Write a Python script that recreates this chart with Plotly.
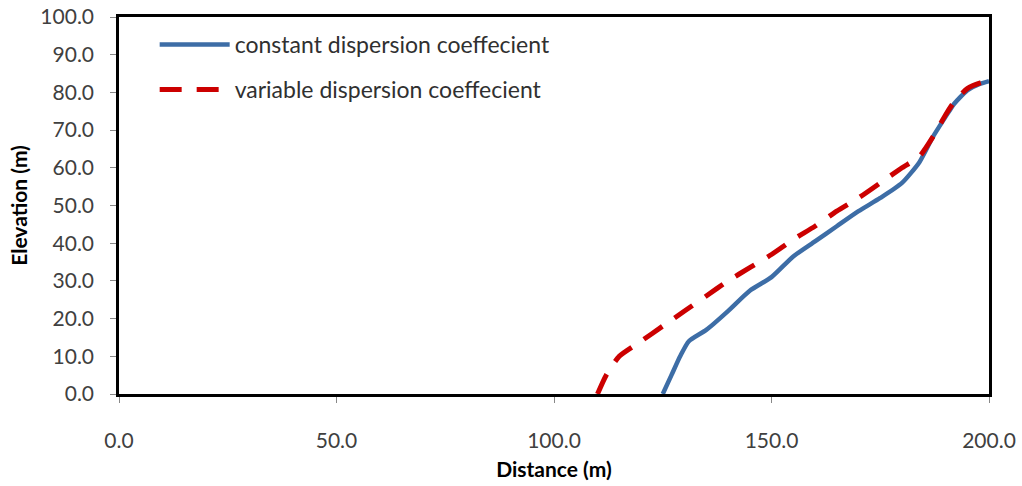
import plotly.graph_objects as go

const_x = [125, 127, 129, 131, 135, 140, 145, 150, 155, 160, 165, 170, 175, 180, 184, 187, 190, 192, 195, 198, 200]
const_y = [0, 5, 10, 14, 17, 22, 27.4, 31, 36.5, 40.5, 44.5, 48.5, 52, 56, 61.5, 68, 73.5, 77, 80.5, 82.3, 83]

var_x = [110, 112, 115, 120, 125, 130, 135, 140, 145, 150, 155, 160, 165, 170, 175, 180, 184, 187, 190, 192, 195, 198, 200]
var_y = [0, 5, 10, 14, 18, 22, 26, 30, 33.5, 37, 41, 44.5, 48.5, 52, 56, 60, 63, 68, 74, 77.5, 81, 82.5, 83]

x_ticks = [0, 50, 100, 150, 200]
y_ticks = [0, 10, 20, 30, 40, 50, 60, 70, 80, 90, 100]

fig = go.Figure()
fig.add_trace(go.Scatter(x=const_x, y=const_y, mode="lines", name="constant dispersion coeffecient",
                         legendgroup="a",
                         line=dict(color="#3D6DA6", width=4.5, shape="spline", smoothing=0.6)))
fig.add_trace(go.Scatter(x=var_x, y=var_y, mode="lines", name="variable dispersion coeffecient",
                         legendgroup="b",
                         line=dict(color="#CC0000", width=5, dash="22px,15px", shape="spline", smoothing=0.6)))

tickfont = dict(family="Lato", size=21, color="#404040")
titlefont = dict(family="Lato", size=21, color="black", weight="bold")
fig.update_layout(
    width=1022, height=486,
    margin=dict(l=119, r=33, t=17, b=92),
    paper_bgcolor="white", plot_bgcolor="white",
    showlegend=True,
    legend=dict(x=0.041, y=0.984, xanchor="left", yanchor="top", bgcolor="rgba(0,0,0,0)",
                font=dict(family="Lato", size=23, color="#303030"),
                itemwidth=70, tracegroupgap=12, traceorder="grouped"),
    font=dict(family="Lato"),
)
fig.update_xaxes(range=[0, 200], tickvals=x_ticks, ticktext=[f"{v:.1f}" for v in x_ticks],
                 tickfont=tickfont, ticks="outside", ticklen=6, tickcolor="#888888",
                 ticklabelstandoff=20, showgrid=False, zeroline=False, automargin=False,
                 showline=True, mirror=True, linecolor="black", linewidth=2.5,
                 title=dict(text="Distance (m)", font=titlefont, standoff=12))
fig.update_yaxes(range=[0, 100], tickvals=y_ticks, ticktext=[f"{v:.1f}" for v in y_ticks],
                 tickfont=tickfont, ticks="outside", ticklen=6, tickcolor="#888888",
                 ticklabelstandoff=12, showgrid=False, zeroline=False, automargin=False,
                 showline=True, mirror=True, linecolor="black", linewidth=2.5,
                 title=dict(text="Elevation (m)", font=titlefont, standoff=8))

fig.write_html("out.html")
